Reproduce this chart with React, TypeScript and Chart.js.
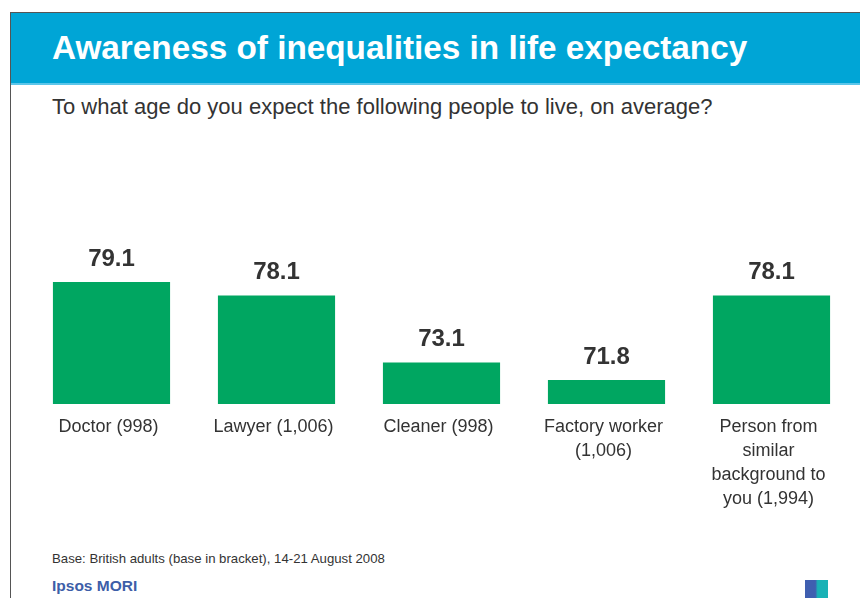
import React, { useEffect, useRef } from "react";
import { Chart, registerables } from "chart.js";

Chart.register(...registerables);

const categories: (string | string[])[] = [
  "Doctor (998)",
  "Lawyer (1,006)",
  "Cleaner (998)",
  ["Factory worker", "(1,006)"],
  ["Person from", "similar", "background to", "you (1,994)"],
];
const values: number[] = [79.1, 78.1, 73.1, 71.8, 78.1];

const TITLE = "Awareness of inequalities in life expectancy";
const SUBTITLE = "To what age do you expect the following people to live, on average?";
const BASE_NOTE = "Base: British adults (base in bracket), 14-21 August 2008";
const BRAND = "Ipsos MORI";

const FONT = "'Liberation Sans', Arial, Helvetica, sans-serif";

const valueLabelPlugin = {
  id: "valueLabels",
  afterDatasetsDraw(chart: any) {
    const ctx = chart.ctx;
    const meta = chart.getDatasetMeta(0);
    ctx.save();
    ctx.font = `bold 24px ${FONT}`;
    ctx.fillStyle = "#333333";
    ctx.textAlign = "center";
    ctx.textBaseline = "alphabetic";
    meta.data.forEach((bar: any, i: number) => {
      const v = chart.data.datasets[0].data[i] as number;
      ctx.fillText(v.toFixed(1), bar.x, bar.y - 16);
    });
    ctx.restore();
  },
};

export default function App() {
  const canvasRef = useRef<HTMLCanvasElement | null>(null);

  useEffect(() => {
    if (!canvasRef.current) return;
    const chart = new Chart(canvasRef.current, {
      type: "bar",
      data: {
        labels: categories,
        datasets: [
          {
            data: values,
            backgroundColor: "#00a661",
            borderWidth: 0,
            categoryPercentage: 1,
            barPercentage: 0.71,
          },
        ],
      },
      options: {
        animation: false,
        responsive: false,
        devicePixelRatio: 1,
        layout: { padding: { left: 29, right: 6, top: 270, bottom: 0 } },
        plugins: {
          legend: { display: false },
          tooltip: { enabled: false },
          title: { display: false },
        },
        scales: {
          y: { display: false, min: 70, max: 80 },
          x: {
            grid: { display: false },
            border: { display: false },
            ticks: {
              autoSkip: false,
              maxRotation: 0,
              minRotation: 0,
              padding: 3,
              labelOffset: -3,
              color: "#333333",
              font: { family: FONT, size: 18, lineHeight: 1.333 },
            },
            afterFit: (scale: any) => {
              scale.height = 194;
            },
          },
        },
      },
      plugins: [valueLabelPlugin],
    });
    return () => chart.destroy();
  }, []);

  return (
    <div
      style={{
        position: "absolute",
        left: 0,
        top: 0,
        width: 860,
        height: 598,
        background: "#ffffff",
        overflow: "hidden",
        fontFamily: FONT,
      }}
    >
      <div
        style={{
          position: "absolute",
          left: 10,
          top: 12,
          width: 860,
          height: 600,
          borderTop: "1.5px solid #555555",
          borderLeft: "1.5px solid #555555",
        }}
      />
      <div
        style={{
          position: "absolute",
          left: 11,
          top: 13,
          width: 849,
          height: 70,
          background: "#00a5d6",
          borderBottom: "2px solid #5cc6ea",
        }}
      />
      <div
        style={{
          position: "absolute",
          left: 52,
          top: 29,
          height: 38,
          lineHeight: "38px",
          fontSize: 33.3,
          fontWeight: "bold",
          color: "#ffffff",
          whiteSpace: "nowrap",
        }}
      >
        {TITLE}
      </div>
      <div
        style={{
          position: "absolute",
          left: 52,
          top: 94,
          lineHeight: "26px",
          fontSize: 22,
          color: "#333333",
          whiteSpace: "nowrap",
        }}
      >
        {SUBTITLE}
      </div>
      <div
        style={{
          position: "absolute",
          left: 52,
          top: 551,
          lineHeight: "16px",
          fontSize: 13.2,
          color: "#333333",
          whiteSpace: "nowrap",
        }}
      >
        {BASE_NOTE}
      </div>
      <div
        style={{
          position: "absolute",
          left: 52,
          top: 577,
          lineHeight: "18px",
          fontSize: 15.5,
          fontWeight: "bold",
          color: "#3d5ea8",
          whiteSpace: "nowrap",
        }}
      >
        {BRAND}
      </div>
      <div
        style={{
          position: "absolute",
          left: 805,
          top: 580,
          width: 23,
          height: 18,
          background: "linear-gradient(90deg, #3f5fb0 0%, #3f5fb0 45%, #19b2b6 55%, #19b2b6 100%)",
        }}
      />
      <canvas
        ref={canvasRef}
        width={860}
        height={598}
        style={{ position: "absolute", left: 0, top: 0, width: 860, height: 598 }}
      />
    </div>
  );
}
